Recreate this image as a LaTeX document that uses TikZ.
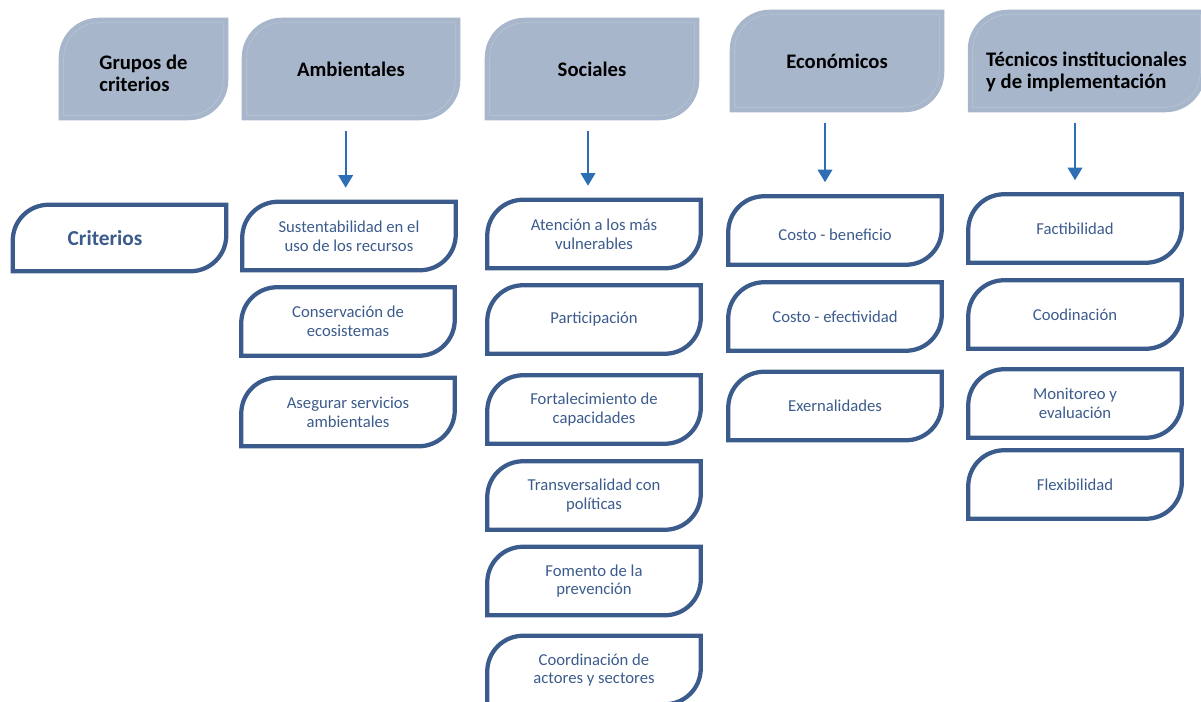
\documentclass[tikz,border=0pt]{standalone}
\usepackage{fontspec}
\setmainfont{Carlito}
\usetikzlibrary{arrows.meta,calc}
\definecolor{hdrfill}{HTML}{A8B6CB}
\definecolor{hdrline}{HTML}{BAC6D7}
\definecolor{critblue}{HTML}{3B5B8C}
\definecolor{arrblue}{HTML}{2E6EB5}
\pgfdeclarelayer{background}
\pgfsetlayers{background,main}

\tikzset{
  hdr/.style={minimum height=76.5pt, inner sep=0pt, align=left,
    font=\fontsize{15.5}{17}\selectfont\bfseries},
  crit/.style={minimum width=159.75pt, minimum height=51pt, inner sep=0pt,
    align=center, text=critblue, font=\fontsize{12.5}{14}\selectfont},
  arr/.style={arrblue, line width=1.4pt, -{Triangle[width=11pt,length=9.5pt]},
    shorten <=8.25pt, shorten >=10.5pt}
}

\begin{document}
\begin{tikzpicture}[x=0.75pt,y=-0.75pt]
        \path[use as bounding box, clip] (0,0) rectangle (1201,702);
        % grupos
        \node[hdr, minimum width=126.75pt, text height=34.5pt] (grp) at (143.5,69) {Grupos de\\criterios};
        \node[hdr, minimum width=163.5pt] (amb) at (351,69) {Ambientales};
        \node[hdr, minimum width=160.5pt] (soc) at (592,69) {Sociales};
        \node[hdr, minimum width=160.5pt] (eco) at (837,61) {Económicos};
        \node[hdr, minimum width=177.75pt, text height=44pt] (tec) at (1086.5,61) {Técnicos institucionales\\y de implementación};
        % criterios
        \node[crit, minimum height=49.5pt, text width=159.75pt, align=left, font=\fontsize{16}{18}\selectfont\bfseries] (crit) at (119.5,238) {\hspace*{41pt}Criterios};
        \node[crit] (a1) at (349,236) {Sustentabilidad en el\\uso de los recursos};
        \node[crit] (a2) at (348,321.5) {Conservación de\\ecosistemas};
        \node[crit] (a3) at (348,412) {Asegurar servicios\\ambientales};
        \node[crit] (s1) at (594,234) {Atención a los más\\vulnerables};
        \node[crit] (s2) at (594,319.5) {Participación};
        \node[crit] (s3) at (594,409.5) {Fortalecimiento de\\capacidades};
        \node[crit] (s4) at (594,495.5) {Transversalidad con\\políticas};
        \node[crit] (s5) at (594,581) {Fomento de la\\prevención};
        \node[crit] (s6) at (594,670) {Coordinación de\\actores y sectores};
        \node[crit, text height=15pt] (e1) at (835,230.5) {Costo - beneficio};
        \node[crit] (e2) at (835,316.5) {Costo - efectividad};
        \node[crit] (e3) at (835,406) {Exernalidades};
        \node[crit] (t1) at (1075,228.5) {Factibilidad};
        \node[crit] (t2) at (1075,314.5) {Coodinación};
        \node[crit] (t3) at (1075,403.5) {Monitoreo y\\evaluación};
        \node[crit] (t4) at (1075,484.5) {Flexibilidad};
        % formas
        \begin{pgfonlayer}{background}
        \foreach \n in {grp,amb,soc,eco,tec}{
            \fill[hdrfill] (\n.south west) -- ([yshift=-30pt]\n.north west) .. controls ([yshift=-13.4pt]\n.north west) and ([xshift=13.4pt]\n.north west) .. ([xshift=30pt]\n.north west) -- (\n.north east) -- ([yshift=30pt]\n.south east) .. controls ([yshift=13.4pt]\n.south east) and ([xshift=-13.4pt]\n.south east) .. ([xshift=-30pt]\n.south east) -- cycle;
            \draw[hdrline, line width=0.4pt] ([shift={(3.75pt,3.75pt)}]\n.south west) -- ([shift={(3.75pt,-30pt)}]\n.north west) .. controls ([shift={(3.75pt,-15.5pt)}]\n.north west) and ([shift={(15.5pt,-3.75pt)}]\n.north west) .. ([shift={(30pt,-3.75pt)}]\n.north west) -- ([shift={(-3.75pt,-3.75pt)}]\n.north east) -- ([shift={(-3.75pt,30pt)}]\n.south east) .. controls ([shift={(-3.75pt,15.5pt)}]\n.south east) and ([shift={(-15.5pt,3.75pt)}]\n.south east) .. ([shift={(-30pt,3.75pt)}]\n.south east) -- cycle;
        }
        \end{pgfonlayer}
        \foreach \n in {crit,a1,a2,a3,s1,s2,s3,s4,s5,s6,e1,e2,e3,t1,t2,t3,t4}
            \draw[critblue, line width=3.2pt] (\n.south west) -- ([yshift=-27pt]\n.north west) .. controls ([yshift=-12pt]\n.north west) and ([xshift=12pt]\n.north west) .. ([xshift=27pt]\n.north west) -- (\n.north east) -- ([yshift=27pt]\n.south east) .. controls ([yshift=12pt]\n.south east) and ([xshift=-12pt]\n.south east) .. ([xshift=-27pt]\n.south east) -- cycle;
        % flechas
        \foreach \h/\b/\dx in {amb/a1/-2.5, soc/s1/-4.5, eco/e1/-7.5, tec/t1/0}
            \draw[arr] ($(\b.north |- \h.south)+(\dx pt,0)$) -- ($(\b.north)+(\dx pt,0)$);
    \end{tikzpicture}
\end{document}
